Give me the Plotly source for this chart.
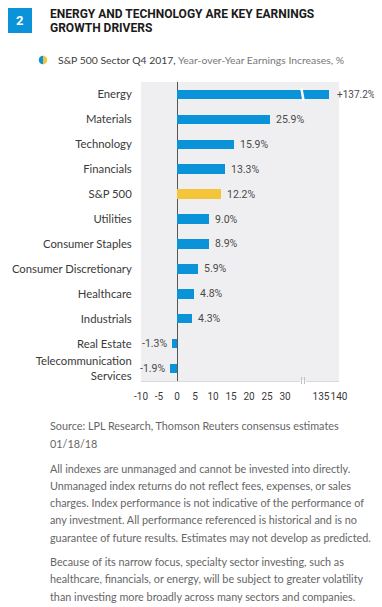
import math
import plotly.graph_objects as go

# ---------------- data ----------------
categories = ["Energy", "Materials", "Technology", "Financials", "S&P 500", "Utilities",
              "Consumer Staples", "Consumer Discretionary", "Healthcare", "Industrials",
              "Real Estate", "Telecommunication<br>Services"]
values = [137.2, 25.9, 15.9, 13.3, 12.2, 9.0, 8.9, 5.9, 4.8, 4.3, -1.3, -1.9]
value_labels = ["+137.2%", "25.9%", "15.9%", "13.3%", "12.2%", "9.0%", "8.9%", "5.9%",
                "4.8%", "4.3%", "-1.3%", "-1.9%"]
tick_values = [-10, -5, 0, 5, 10, 15, 20, 25, 30, 135, 140]
tick_labels = ["-10", "-5", "0", "5", "10", "15", "20", "25", "30", "135", "140"]

title_lines = ["ENERGY AND TECHNOLOGY ARE KEY EARNINGS", "GROWTH DRIVERS"]
legend_bold = "S&P 500 Sector Q4 2017,"
legend_rest = "Year-over-Year Earnings Increases, %"
source_lines = ["Source: LPL Research, Thomson Reuters consensus estimates", "01/18/18"]
disc1_lines = ["All indexes are unmanaged and cannot be invested into directly.",
               "Unmanaged index returns do not reflect fees, expenses, or sales",
               "charges. Index performance is not indicative of the performance of",
               "any investment. All performance referenced is historical and is no",
               "guarantee of future results. Estimates may not develop as predicted."]
disc2_lines = ["Because of its narrow focus, specialty sector investing, such as",
               "healthcare, financials, or energy, will be subject to greater volatility",
               "than investing more broadly across many sectors and companies."]

# ---------------- style ----------------
BLUE = "#0a93d8"
YELLOW = "#f4c53a"
BG = "#efeff1"
FONT = "Lato, Roboto, sans-serif"
TFONT = "Roboto, Lato, sans-serif"
OFF = 8  # page body margin
W, H = 382 - OFF, 607 - OFF
PLOT_L, PLOT_R, PLOT_T, PLOT_B = 141, 339, 82, 381  # plot area in page pixels
L, R, T, B = PLOT_L - OFF, 382 - PLOT_R, PLOT_T - OFF, 607 - PLOT_B
PW, PH = W - L - R, H - T - B


def px_x(p):
    return (p - OFF - L) / PW


def px_y(p):
    return 1 - (p - OFF - T) / PH


# broken axis: values above the break are shifted down
BREAK_AT = 35
HIGH_START = 135
HIGH_POS = 40


def disp(v):
    return v if v <= 32 else HIGH_POS + (v - HIGH_START)


ypos = list(range(len(categories)))
xd = [disp(v) for v in values]
colors = [YELLOW if c == "S&P 500" else BLUE for c in categories]

fig = go.Figure()
fig.add_trace(go.Bar(x=xd, y=ypos, orientation="h", marker=dict(color=colors, line=dict(width=0)),
                     width=0.38, hoverinfo="skip"))

# value labels
for i, (v, lab) in enumerate(zip(values, value_labels)):
    if v >= 0:
        big = v > 32
        fig.add_annotation(x=disp(v), y=i, text=lab, showarrow=False, xanchor="left", xshift=6 if big else 4,
                           font=dict(size=10 if big else 10.5, color="#4a4a4a", family=TFONT))
    else:
        fig.add_annotation(x=disp(v), y=i, text=lab, showarrow=False, xanchor="right", xshift=-3,
                           font=dict(size=10.5, color="#4a4a4a", family=TFONT))

# break in Energy bar
fig.add_shape(type="line", x0=BREAK_AT - 0.45, x1=BREAK_AT + 0.15, y0=-0.24, y1=0.24,
              xref="x", yref="y", line=dict(color="white", width=2.5))
# break marks on axis
fig.add_shape(type="rect", x0=BREAK_AT - 0.8, x1=BREAK_AT + 0.8, y0=px_y(380), y1=px_y(382),
              xref="x", yref="paper", fillcolor="white", line=dict(width=0))
for dx in (-0.4, 0.4):
    fig.add_shape(type="line", x0=BREAK_AT + dx, x1=BREAK_AT + dx, y0=px_y(377), y1=px_y(384),
                  xref="x", yref="paper", line=dict(color="#bdbdbd", width=1))

# blue number box
fig.add_shape(type="rect", xref="paper", yref="paper", x0=px_x(8), x1=px_x(32), y0=px_y(33), y1=px_y(8),
              fillcolor=BLUE, line=dict(width=0))
fig.add_annotation(xref="paper", yref="paper", x=px_x(20), y=px_y(21), text="<b>2</b>", showarrow=False,
                   xanchor="center", yanchor="middle", font=dict(size=13, color="white", family=TFONT))

# title
for k, line in enumerate(title_lines):
    fig.add_annotation(xref="paper", yref="paper", x=px_x(48), y=px_y(13.5 + 14 * k), text="<b>" + line + "</b>",
                       showarrow=False, xanchor="left", yanchor="middle",
                       font=dict(size=12, color="#1a1a1a", family=TFONT))

# legend icon (half blue / half yellow circle)
cx, cy, r = 43, 60, 4.2
pts_l = [(cx - r * math.sin(t * math.pi / 20), cy - r * math.cos(t * math.pi / 20)) for t in range(21)]
pts_r = [(cx + r * math.sin(t * math.pi / 20), cy - r * math.cos(t * math.pi / 20)) for t in range(21)]
fig.add_shape(type="path", xref="paper", yref="paper",
              path="M " + " L ".join(f"{px_x(a):.5f},{px_y(b):.5f}" for a, b in pts_l) + " Z",
              fillcolor=BLUE, line=dict(width=0))
fig.add_shape(type="path", xref="paper", yref="paper",
              path="M " + " L ".join(f"{px_x(a):.5f},{px_y(b):.5f}" for a, b in pts_r) + " Z",
              fillcolor=YELLOW, line=dict(width=0))
fig.add_annotation(xref="paper", yref="paper", x=px_x(56), y=px_y(60.5),
                   text=f"<span style='color:#3c3c3c'>{legend_bold}</span> <span style='color:#777777'>{legend_rest}</span>",
                   showarrow=False, xanchor="left", yanchor="middle", font=dict(size=10.4, family=FONT))

# footer lines
footer = [(source_lines, 426), (disc1_lines, 468.3), (disc2_lines, 561.7)]
for lines, y0 in footer:
    for k, line in enumerate(lines):
        fig.add_annotation(xref="paper", yref="paper", x=px_x(48), y=px_y(y0 + 17.2 * k), text=line,
                           showarrow=False, xanchor="left", yanchor="middle",
                           font=dict(size=10.8, color="#666666", family=FONT))

fig.update_layout(
    width=W, height=H, margin=dict(l=L, r=R, t=T, b=B, autoexpand=False),
    paper_bgcolor="white", plot_bgcolor=BG, showlegend=False, bargap=0,
    font=dict(family=FONT),
)
fig.update_xaxes(range=[-10, 45], tickvals=[disp(v) for v in tick_values], ticktext=tick_labels,
                 showgrid=False, zeroline=True, zerolinecolor="#555555", zerolinewidth=1,
                 showline=True, linecolor="#d9d9db", linewidth=1, tickangle=0, automargin=False,
                 ticks="outside", ticklen=6, tickcolor="rgba(0,0,0,0)",
                 tickfont=dict(size=10, color="#3a3a3a", family=TFONT), fixedrange=True)
fig.update_yaxes(range=[len(categories) - 0.5, -0.5], tickvals=ypos, ticktext=categories,
                 showgrid=False, zeroline=False, ticks="outside", ticklen=6, tickcolor="rgba(0,0,0,0)",
                 automargin=False,
                 tickfont=dict(size=11.3, color="#3a3a3a", family=FONT), fixedrange=True)

fig.write_html("out.html", config={"displayModeBar": False})
